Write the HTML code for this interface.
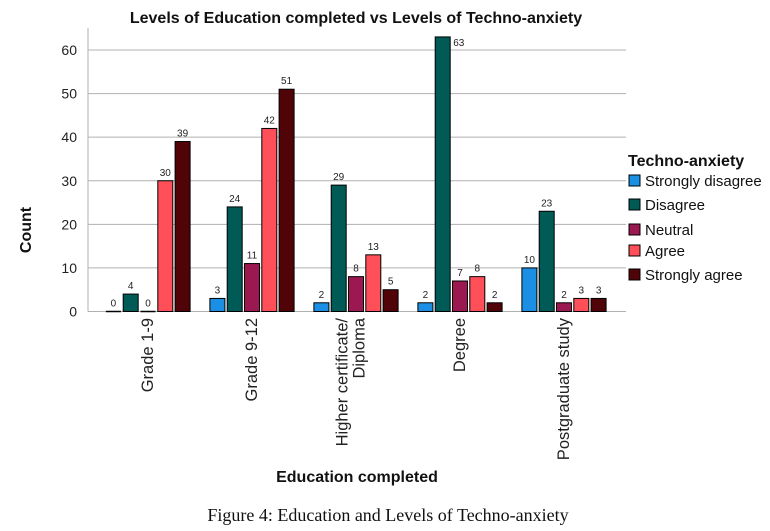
<!DOCTYPE html>
<html><head><meta charset="utf-8"><style>
body{margin:0;background:#fff;}
svg{display:block;font-family:"Liberation Sans",sans-serif;}
</style></head><body>
<svg id="chart" width="770" height="531" viewBox="0 0 770 531">
<text x="356" y="23" text-anchor="middle" font-size="16" font-weight="bold" fill="#111">Levels of Education completed vs Levels of Techno-anxiety</text>
<g id="grid"></g>
<g id="bars"></g>
<g id="xlabels"></g>
<text transform="translate(31,230) rotate(-90)" text-anchor="middle" font-size="16" font-weight="bold" fill="#111">Count</text>
<text x="357" y="482" text-anchor="middle" font-size="16" font-weight="bold" fill="#111">Education completed</text>
<g id="legend"></g>
<text x="388" y="521" text-anchor="middle" font-size="18" font-family="'Liberation Serif',serif" fill="#111">Figure 4:  Education and Levels of Techno-anxiety</text>
</svg>
<script>
const categories = ["Grade 1-9","Grade 9-12","Higher certificate/|Diploma","Degree","Postgraduate study"];
const seriesNames = ["Strongly disagree","Disagree","Neutral","Agree","Strongly agree"];
const stronglyDisagree = [0,3,2,2,10];
const disagree = [4,24,29,63,23];
const neutral = [0,11,8,7,2];
const agree = [30,42,13,8,3];
const stronglyAgree = [39,51,5,2,3];
const yTicks = [0,10,20,30,40,50,60];
const series = [stronglyDisagree,disagree,neutral,agree,stronglyAgree];
const colors = ["#1a8fe3","#005a56","#9c1850","#ff4f59","#510408"];
const NS="http://www.w3.org/2000/svg";
const x0=88,x1=626,y0=311.5,ppu=(311.5-50)/60;
const yScale=v=>y0-v*ppu;
const groupCenter=i=>148+i*104;
function mk(tag,attrs,parent){const e=document.createElementNS(NS,tag);for(const k in attrs)e.setAttribute(k,attrs[k]);parent.appendChild(e);return e;}
const grid=document.getElementById('grid');
yTicks.forEach(t=>{
  const l=mk('line',{x1:x0,x2:x1,y1:yScale(t),y2:yScale(t),stroke:'#b0b0b0','stroke-width':1},grid);
  
  
  const tx=mk('text',{x:77,y:yScale(t)+5,'text-anchor':'end','font-size':14,fill:'#222'},grid);
  tx.textContent=t;
  
  
});
const ax=mk('line',{x1:x0,x2:x0,y1:28,y2:y0,stroke:'#b0b0b0'},grid);


const bars=document.getElementById('bars');
const bw=15,step=17.3;
categories.forEach((c,i)=>{
  series.forEach((s,j)=>{
    const v=s[i];
    const x=groupCenter(i)-2*step+j*step-bw/2;
    let r;
    if(v===0){
      r=mk('line',{x1:x,x2:x+bw,y1:y0,y2:y0,stroke:'#000','stroke-width':1.5},bars);
    } else {
      r=mk('rect',{x:x,y:yScale(v),width:bw,height:y0-yScale(v),fill:colors[j],stroke:'#000','stroke-width':1},bars);
    }
    
    
    let t;
    if(yScale(v)-5<36){
      t=mk('text',{x:x+bw+3,y:yScale(v)+9,'text-anchor':'start','font-size':10,fill:'#222'},bars);
    } else {
      t=mk('text',{x:x+bw/2,y:yScale(v)-5,'text-anchor':'middle','font-size':10,fill:'#222'},bars);
    }
    t.textContent=v;
    
    
  });
});
const xl=document.getElementById('xlabels');
categories.forEach((c,i)=>{
  const lines=c.split('|');
  lines.forEach((ln,k)=>{
    const xx=groupCenter(i)+5+(k-(lines.length-1)/2)*17 - (lines.length>1?5:0);
    const t=mk('text',{transform:`translate(${xx},318) rotate(-90)`,'text-anchor':'end','font-size':16.5,fill:'#222'},xl);
    t.textContent=ln;
    
    
  });
});
const lg=document.getElementById('legend');
const tt=mk('text',{x:628,y:166,'font-size':16,'font-weight':'bold',fill:'#111'},lg);
tt.textContent='Techno-anxiety';


const ly=[181,205,230,251,275];
seriesNames.forEach((n,j)=>{
  const r=mk('rect',{x:629,y:ly[j]-6,width:11,height:11,fill:colors[j],stroke:'#000','stroke-width':1},lg);
  
  
  const t=mk('text',{x:645,y:ly[j]+5,'font-size':15,fill:'#111'},lg);
  t.textContent=n;
  
  
});
</script>
</body></html>
